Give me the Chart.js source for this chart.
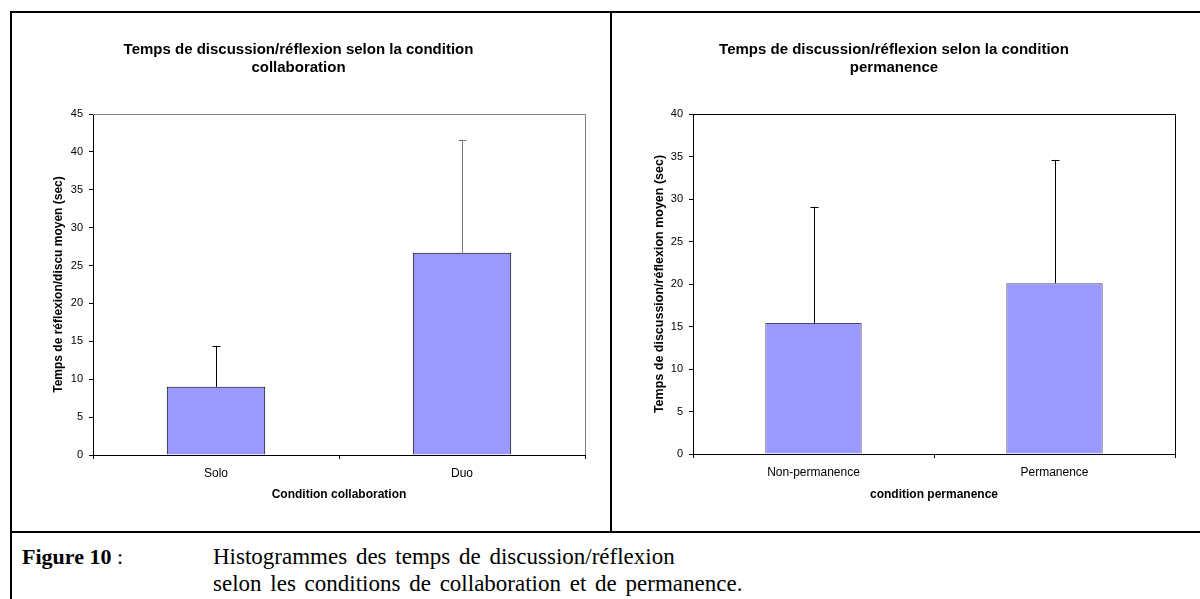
<!DOCTYPE html>
<html>
<head>
<meta charset="utf-8">
<script src="https://cdn.jsdelivr.net/npm/chart.js@4.4.1/dist/chart.umd.min.js"></script>
<style>
  html, body { margin: 0; padding: 0; background: #fff; }
  body { width: 1200px; height: 599px; position: relative; overflow: hidden; }
  .line { position: absolute; background: #000; }
  .box { position: absolute; }
  .caption { position: absolute; font-family: "Liberation Serif", "Times New Roman", serif; font-size: 22px; line-height: 24px; color: #000; white-space: nowrap; }
  .wide { font-size: 23px; word-spacing: 3px; }
</style>
</head>
<body>
  <!-- table borders -->
  <div class="line" style="left:10px; top:11px; width:1190px; height:2px;"></div>
  <div class="line" style="left:10px; top:11px; width:2px; height:588px;"></div>
  <div class="line" style="left:610px; top:11px; width:2px; height:521px;"></div>
  <div class="line" style="left:10px; top:531px; width:1190px; height:2px;"></div>

  <div class="box" style="left:12px; top:13px; width:578px; height:518px;"><canvas id="collabChart"></canvas></div>
  <div class="box" style="left:613px; top:13px; width:585px; height:518px;"><canvas id="permChart"></canvas></div>

  <div class="caption" style="left:22px; top:545px;"><b>Figure 10</b> :</div>
  <div class="caption wide" style="left:213px; top:545px;">Histogrammes des temps de discussion/réflexion</div>
  <div class="caption wide" style="left:213px; top:572px;">selon les conditions de collaboration et de permanence.</div>

<script>
// data
const collabLabels = ['Solo', 'Duo'];
const collabMeans = [9.0, 26.7];
const collabSD = [5.4, 14.9];

const permLabels = ['Non-permanence', 'Permanence'];
const permMeans = [15.4, 20.1];
const permSD = [13.7, 14.5];

const font = "'Liberation Sans', Arial, sans-serif";

// upward error bars + plot frame (top / right)
const errorBars = {
  id: 'errorBars',
  afterDatasetsDraw(chart, args, opts) {
    const ctx = chart.ctx;
    const y = chart.scales.y;
    const meta = chart.getDatasetMeta(0);
    const ds = chart.data.datasets[0];
    ctx.save();
    meta.data.forEach((bar, i) => {
      const top = y.getPixelForValue(ds.data[i] + opts.sd[i]);
      ctx.strokeStyle = opts.colors[i];
      ctx.lineWidth = 1;
      ctx.beginPath();
      ctx.moveTo(Math.round(bar.x) + 0.5, bar.y);
      ctx.lineTo(Math.round(bar.x) + 0.5, top);
      ctx.moveTo(Math.round(bar.x) - 3.5, Math.round(top) + 0.5);
      ctx.lineTo(Math.round(bar.x) + 4.5, Math.round(top) + 0.5);
      ctx.stroke();
    });
    const a = chart.chartArea;
    ctx.strokeStyle = opts.frame;
    ctx.beginPath();
    ctx.moveTo(a.left, Math.round(a.top) + 0.5);
    ctx.lineTo(Math.round(a.right) + 0.5, Math.round(a.top) + 0.5);
    ctx.lineTo(Math.round(a.right) + 0.5, a.bottom);
    ctx.stroke();
    ctx.restore();
  }
};

function makeChart(id, labels, means, sd, cfg) {
  const ctx = document.getElementById(id).getContext('2d');
  return new Chart(ctx, {
    type: 'bar',
    data: {
      labels: labels,
      datasets: [{
        data: means,
        backgroundColor: '#9999ff',
        borderColor: cfg.barBorder,
        borderWidth: 1,
        categoryPercentage: 1,
        barPercentage: 0.4
      }]
    },
    options: {
      responsive: true,
      maintainAspectRatio: false,
      animation: false,
      layout: { padding: { left: 0, right: cfg.right, top: 0, bottom: 0 } },
      plugins: {
        legend: { display: false },
        tooltip: { enabled: false },
        title: {
          display: true,
          text: cfg.title,
          color: '#000',
          font: { family: font, size: 15, weight: 'bold', lineHeight: 1.2 },
          padding: { top: 28, bottom: 37 }
        },
        errorBars: { sd: sd, colors: cfg.errColors, frame: cfg.frame }
      },
      scales: {
        x: {
          afterFit: s => { s.height = cfg.xh; },
          grid: { display: true, drawOnChartArea: false, offset: true, tickLength: 4, color: '#000' },
          border: { color: '#000', width: 1 },
          ticks: { color: '#000', font: { family: font, size: 12 }, padding: 7 },
          title: { display: true, text: cfg.xTitle, color: '#000', font: { family: font, size: 12, weight: 'bold' }, padding: { top: 4, bottom: 29 } }
        },
        y: {
          min: 0,
          max: cfg.max,
          afterFit: s => { s.width = cfg.yw; },
          grid: { display: true, drawOnChartArea: false, tickLength: 4, color: '#000' },
          border: { color: '#000', width: 1 },
          ticks: { stepSize: 5, color: '#000', font: { family: font, size: 11 }, padding: 6 },
          title: { display: true, text: cfg.yTitle, color: '#000', font: { family: font, size: cfg.ytSize, weight: 'bold' }, padding: { top: 39, bottom: 0 } }
        }
      }
    },
    plugins: [errorBars]
  });
}

makeChart('collabChart', collabLabels, collabMeans, collabSD, {
  title: ['Temps de discussion/réflexion selon la condition', 'collaboration'],
  xTitle: 'Condition collaboration',
  yTitle: 'Temps de réflexion/discu moyen (sec)',
  max: 45, yw: 81, xh: 76, right: 5, ytSize: 12,
  barBorder: '#000', errColors: ['#000', '#777'], frame: '#808080'
});

makeChart('permChart', permLabels, permMeans, permSD, {
  title: ['Temps de discussion/réflexion selon la condition', 'permanence'],
  xTitle: 'condition permanence',
  yTitle: 'Temps de discussion/réflexion moyen (sec)',
  max: 40, yw: 80, xh: 77, right: 23, ytSize: 12.5,
  barBorder: '#4a4a6a', errColors: ['#000', '#000'], frame: '#000'
});
</script>
</body>
</html>
